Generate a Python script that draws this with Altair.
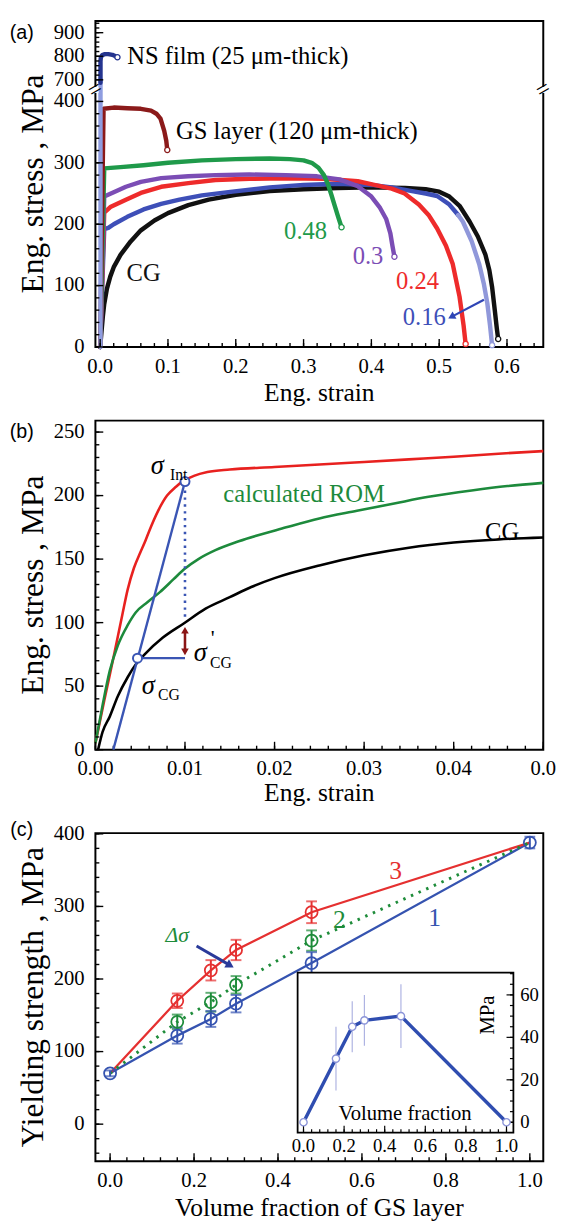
import altair as alt
import pandas as pd

SERIF = "Liberation Serif"
SANS = "Liberation Sans"
W, HA, HB, HC = 456, 332, 335, 334
TICK_MAJOR, TICK_MINOR = 8, 4
LAB = 21

# ======================= panel (a) data =======================
cg_strain = [0.0, 0.002, 0.004, 0.006, 0.01, 0.015, 0.02, 0.03, 0.045, 0.06, 0.08, 0.1, 0.13, 0.16, 0.2, 0.25,
             0.3, 0.35, 0.4, 0.45, 0.48, 0.5, 0.515, 0.53, 0.545, 0.557, 0.568, 0.574, 0.578, 0.582, 0.585, 0.587]
cg_stress = [0, 25, 50, 70, 95, 115, 130, 150, 172, 190, 206, 218, 231, 240, 248, 254,
             257, 259, 260, 259, 257, 253, 245, 230, 204, 180, 151, 125, 98, 60, 30, 13]
f16_strain = [0.0, 0.003, 0.006, 0.012, 0.02, 0.04, 0.064, 0.09, 0.117, 0.15, 0.195, 0.25, 0.3, 0.35, 0.4,
              0.43, 0.46, 0.48, 0.497, 0.515, 0.528]
f16_stress = [0, 96, 192, 194, 200, 212, 224, 233, 240, 247, 253, 260, 264, 266, 264, 260, 254, 250, 246, 232, 215]
f16_tail_strain = [0.528, 0.535, 0.548, 0.559, 0.566, 0.571, 0.575, 0.578]
f16_tail_stress = [215, 204, 172, 135, 102, 71, 35, 3]
f24_strain = [0.0, 0.003, 0.006, 0.015, 0.038, 0.06, 0.09, 0.13, 0.17, 0.22, 0.274, 0.33, 0.38, 0.401, 0.43,
              0.449, 0.47, 0.485, 0.497, 0.51, 0.52, 0.53, 0.536, 0.539]
f24_stress = [0, 110, 219, 228, 240, 251, 261, 267, 272, 274, 275, 274, 270, 265, 258, 250, 232, 214, 193, 165,
              135, 82, 35, 5]
f30_strain = [0.0, 0.003, 0.006, 0.02, 0.038, 0.06, 0.09, 0.13, 0.17, 0.22, 0.274, 0.32, 0.353, 0.38, 0.40,
              0.412, 0.422, 0.428, 0.431, 0.434]
f30_stress = [0, 122, 245, 252, 261, 269, 275, 278, 280, 281, 280, 278, 273, 262, 245, 228, 208, 185, 165, 147]
f48_strain = [0.0, 0.003, 0.006, 0.03, 0.064, 0.1, 0.15, 0.2, 0.25, 0.28, 0.3, 0.312, 0.322, 0.33, 0.336,
              0.341, 0.346, 0.351, 0.356]
f48_stress = [0, 145, 291, 293, 296, 300, 304, 306, 307, 306, 304, 300, 292, 280, 265, 248, 230, 212, 195]
gs_strain = [0.0, 0.003, 0.005, 0.02, 0.04, 0.06, 0.075, 0.083, 0.089, 0.0945, 0.0975, 0.099]
gs_stress = [0, 230, 388, 390, 389, 388, 385, 380, 372, 352, 336, 321]
ns_el_strain = [0.0005, 0.0005]
ns_el_stress = [0, 700]
ns_strain = [0.0005, 0.0005, 0.001, 0.003, 0.007, 0.012, 0.018, 0.022, 0.0255]
ns_stress = [660, 780, 795, 805, 809, 809, 806, 801, 796]

a_colors = ["#111111", "#3e4fb8", "#9098da", "#ee2b2b", "#7b4db5", "#1f9a4a", "#8b1a1a", "#8f9de0", "#24348f"]
a_curves = [("CG", cg_strain, cg_stress), ("0.16", f16_strain, f16_stress),
            ("0.16 tail", f16_tail_strain, f16_tail_stress), ("0.24", f24_strain, f24_stress),
            ("0.3", f30_strain, f30_stress), ("0.48", f48_strain, f48_stress), ("GS", gs_strain, gs_stress),
            ("NS elastic", ns_el_strain, ns_el_stress), ("NS", ns_strain, ns_stress)]
a_end_series = ["CG", "0.16 tail", "0.24", "0.3", "0.48", "GS", "NS"]

a_lab_left_text = ["NS film (25 \u03bcm-thick)", "GS layer (120 \u03bcm-thick)"]
a_lab_left_x = [0.040, 0.112]
a_lab_left_y = [800, 352]
a_lab_text = ["0.48", "0.3", "0.24", "0.16", "CG"]
a_lab_x = [0.303, 0.395, 0.468, 0.478, 0.064]
a_lab_y = [189, 148, 108, 48, 121]
a_lab_color = ["#1f9a4a", "#7b4db5", "#ee2b2b", "#3e4fb8", "#111111"]
a_arrow_x = [0.566, 0.518]
a_arrow_y = [77, 49]
a_break_x = [-0.007, 0.6535]
a_break_y = [560, 560]

xa_dom = [-0.007, 0.6535]
xa_major = [0.0, 0.1, 0.2, 0.3, 0.4, 0.5, 0.6]
xa_labels = ["0.0", "0.1", "0.2", "0.3", "0.4", "0.5", "0.6"]
xa_minor = [round(0.02 * i, 2) for i in range(33)]
ya_major = [0, 100, 200, 300, 400, 700, 800, 900]
ya_labels = ["0", "100", "200", "300", "400", "700", "800", "900"]
ya_minor = list(range(0, 401, 20)) + list(range(700, 941, 20))

# ======================= panel (b) data =======================
rb_strain = [0, 0.001, 0.002, 0.003, 0.0036, 0.0043, 0.005, 0.0055, 0.006, 0.007, 0.008, 0.009, 0.0097, 0.011,
             0.0125, 0.015, 0.02, 0.025, 0.03, 0.035, 0.04, 0.045, 0.05]
rb_stress = [5, 39, 72, 106, 126, 143, 155, 163, 172, 188, 200, 207, 211, 215.5, 218.5, 220.5, 222.5, 224.5,
             226.5, 228.5, 230.5, 233, 235]
gb_strain = [0, 0.0008, 0.0016, 0.0025, 0.0036, 0.0045, 0.0058, 0.0072, 0.0087, 0.0099, 0.0115, 0.0134, 0.016,
             0.0213, 0.025, 0.0292, 0.0335, 0.0372, 0.042, 0.046, 0.05]
gb_stress = [5, 35, 62, 82, 98, 108, 116, 124, 134, 142, 150, 157, 164, 175, 182, 188, 194, 199, 204, 207.5, 210]
kb_strain = [0.0003, 0.0008, 0.0016, 0.0025, 0.0036, 0.0045, 0.0055, 0.0075, 0.0099, 0.0123, 0.015, 0.0174,
             0.02, 0.025, 0.03, 0.035, 0.04, 0.045, 0.05]
kb_stress = [0, 14, 26, 42, 57, 67, 75, 88, 99.5, 111, 120, 128, 135, 145, 153, 159, 163, 165.5, 167]
b_colors = ["#e8211f", "#1d8a3c", "#000000"]

b_offset_strain = [0.002, 0.01]
b_offset_stress = [0, 211]
b_h_strain = [0.0047, 0.01]
b_h_stress = [72, 72]
b_dot_strain = [0.01, 0.01]
b_dot_stress = [204, 103]
b_circ_strain = [0.01, 0.0047]
b_circ_stress = [211, 72]
b_arrow_x = [0.01, 0.01]
b_arrow_y = [77, 94]

b_sig_x = [0.0069, 0.0117, 0.0059]
b_sig_y = [223, 76, 50]
b_sub_text = ["Int", "CG", "CG"]
b_sub_x = [0.0093, 0.014, 0.0082]
b_sub_y = [216, 68, 43]
b_prime_x = [0.0131]
b_prime_y = [88]
b_lab_text = ["calculated ROM", "CG"]
b_lab_x = [0.0233, 0.0454]
b_lab_y = [201, 171.5]
b_lab_color = ["#1d8a3c", "#000000"]

xb_dom = [0.0, 0.05]
yb_dom = [0, 259]
xb_major = [0.0, 0.01, 0.02, 0.03, 0.04, 0.05]
xb_labels = ["0.00", "0.01", "0.02", "0.03", "0.04", "0.0"]
xb_minor = [round(0.002 * i, 3) for i in range(26)]
yb_major = [0, 50, 100, 150, 200, 250]
yb_labels = ["0", "50", "100", "150", "200", "250"]
yb_minor = list(range(0, 251, 10))

# ======================= panel (c) data =======================
c_frac = [0.0, 0.16, 0.24, 0.30, 0.48, 1.0]
c_blue = [70, 122, 145, 166, 222, 388]
c_blue_err = [4, 11, 11, 12, 15, 8]
c_green = [70, 141, 168, 192, 253, 388]
c_green_err = [0, 10, 13, 12, 14, 0]
c_red = [70, 170, 212, 240, 292, 388]
c_red_err = [0, 10, 14, 14, 15, 0]
c_colors = ["#3553b0", "#1e8c3a", "#e53030"]

c_lab_text = ["3", "2", "1"]
c_lab_x = [0.68, 0.546, 0.773]
c_lab_y = [349, 281, 284]
c_lab_color = ["#e53030", "#1e8c3a", "#3553b0"]
c_ds_x = [0.16]
c_ds_y = [261]
c_arrow_x = [0.206, 0.286]
c_arrow_y = [245.6, 218.8]

i_frac = [0.0, 0.16, 0.24, 0.30, 0.48, 1.0]
i_val = [0, 30, 45, 48, 50, 0]
i_lo = [0, 15, 33, 36, 35, 0]
i_hi = [0, 45, 57, 60, 65, 0]

xc_dom = [-0.035, 1.032]
yc_dom = [-51, 401]
xc_major = [0.0, 0.2, 0.4, 0.6, 0.8, 1.0]
xc_labels = ["0.0", "0.2", "0.4", "0.6", "0.8", "1.0"]
xc_minor = [round(0.04 * i, 2) for i in range(26)]
yc_major = [0, 100, 200, 300, 400]
yc_labels = ["0", "100", "200", "300", "400"]
yc_minor = list(range(-40, 401, 20))
xi_dom = [-0.029, 1.034]
yi_dom = [-4.9, 70.5]
xi_major = [0.0, 0.2, 0.4, 0.6, 0.8, 1.0]
xi_labels = ["0.0", "0.2", "0.4", "0.6", "0.8", "1.0"]
xi_minor = [round(0.04 * i, 2) for i in range(26)]
yi_major = [0, 20, 40, 60]
yi_labels = ["0", "20", "40", "60"]
yi_minor = list(range(0, 71, 5))

panel_labels = ["(a)", "(b)", "(c)"]
x_titles = ["Eng. strain", "Eng. strain", "Volume fraction of GS layer"]
y_titles = ["Eng. stress , MPa", "Eng. stress , MPa", "Yielding strength , MPa"]


# ======================= helpers =======================
def ticks_x(values, xs, ys, y_edge, dy, width=1.4):
    """inward ticks on a horizontal edge, each drawn as a 2-point line from y_edge to y_edge+dy."""
    rows = []
    for j, v in enumerate(values):
        rows.append({"k": j, "i": 0, "px": v, "py": y_edge})
        rows.append({"k": j, "i": 1, "px": v, "py": y_edge + dy})
    return alt.Chart(pd.DataFrame(rows)).mark_line(color="black", strokeWidth=width).encode(
        x=alt.X("px:Q", scale=xs, axis=None), y=alt.Y("py:Q", scale=ys, axis=None),
        detail="k:N", order="i:Q")


def ticks_y(values, xs, ys, x_edge, dx, width=1.4):
    """inward ticks on a vertical edge, each drawn as a 2-point line from x_edge to x_edge+dx."""
    rows = []
    for j, v in enumerate(values):
        rows.append({"k": j, "i": 0, "px": x_edge, "py": v})
        rows.append({"k": j, "i": 1, "px": x_edge + dx, "py": v})
    return alt.Chart(pd.DataFrame(rows)).mark_line(color="black", strokeWidth=width).encode(
        x=alt.X("px:Q", scale=xs, axis=None), y=alt.Y("py:Q", scale=ys, axis=None),
        detail="k:N", order="i:Q")


def labels_x(values, texts, scale, y_px, size=LAB):
    return alt.Chart(pd.DataFrame({"v": values, "t": texts})).mark_text(
        font=SERIF, fontSize=size, align="center", baseline="top", color="black").encode(
        x=alt.X("v:Q", scale=scale, axis=None), y=alt.value(y_px), text="t:N")


def labels_y(values, texts, scale, x_px, align="right", size=LAB):
    return alt.Chart(pd.DataFrame({"v": values, "t": texts})).mark_text(
        font=SERIF, fontSize=size, align=align, baseline="middle", color="black").encode(
        y=alt.Y("v:Q", scale=scale, axis=None), x=alt.value(x_px), text="t:N")


def free_text(txt, x_px, y_px, size, angle=0, font=SERIF):
    return alt.Chart(pd.DataFrame({"t": [txt]})).mark_text(
        font=font, fontSize=size, angle=angle, align="center", baseline="middle", color="black").encode(
        text="t:N", x=alt.value(x_px), y=alt.value(y_px))


def frame_guides(xs, ys, xdom, y_bottom, px_x, px_y, xmaj, xlab, xmin, ymaj, ylab, ymin, height, k, xtitle_dy):
    return [ticks_x(xmin, xs, ys, y_bottom, TICK_MINOR / px_y), ticks_x(xmaj, xs, ys, y_bottom, TICK_MAJOR / px_y),
            ticks_y(ymin, xs, ys, xdom[0], TICK_MINOR / px_x), ticks_y(ymaj, xs, ys, xdom[0], TICK_MAJOR / px_x),
            labels_x(xmaj, xlab, xs, height + 9), labels_y(ymaj, ylab, ys, -11),
            free_text(x_titles[k], W / 2, height + xtitle_dy, 26),
            free_text(y_titles[k], -63, height / 2, 32, angle=270)]


def enc_xy(xs, ys, xf="x", yf="y"):
    return dict(x=alt.X(f"{xf}:Q", scale=xs, axis=None), y=alt.Y(f"{yf}:Q", scale=ys, axis=None))


def long_df(curves, colors):
    rows = []
    for (name, xs, ys), col in zip(curves, colors):
        for i, (x, y) in enumerate(zip(xs, ys)):
            rows.append({"series": name, "x": x, "y": y, "i": i, "c": col})
    return pd.DataFrame(rows)


COL = alt.Color("c:N", scale=None, legend=None)

# ======================= panel (a) =======================
xa_scale = alt.Scale(domain=xa_dom, nice=False, zero=False)
ya_scale = alt.Scale(domain=[0, 400, 700, 950], range=[HA, 82, 60, 0], nice=False, zero=False)
pxa_x = W / (xa_dom[1] - xa_dom[0])
pxa_y = (HA - 82) / 400.0

a_df = long_df(a_curves, a_colors)
a_end = a_df.sort_values("i").groupby("series").tail(1)
a_end = a_end[a_end["series"].isin(a_end_series)]

a_lines = alt.Chart(a_df).mark_line(strokeWidth=4.5, strokeCap="round", strokeJoin="round").encode(
    color=COL, detail="series:N", order="i:Q", **enc_xy(xa_scale, ya_scale))
a_ends = alt.Chart(a_end).mark_point(shape="circle", filled=True, fill="white", fillOpacity=1,
                                      size=28, strokeWidth=1.3).encode(
    stroke=alt.Stroke("c:N", scale=None, legend=None), **enc_xy(xa_scale, ya_scale))
a_lab_l = alt.Chart(pd.DataFrame({"x": a_lab_left_x, "y": a_lab_left_y, "t": a_lab_left_text})).mark_text(
    font=SERIF, fontSize=25, align="left", baseline="middle", color="black").encode(
    text="t:N", **enc_xy(xa_scale, ya_scale))
a_lab_c = alt.Chart(pd.DataFrame({"x": a_lab_x, "y": a_lab_y, "t": a_lab_text, "c": a_lab_color})).mark_text(
    font=SERIF, fontSize=25, align="center", baseline="middle").encode(
    text="t:N", color=COL, **enc_xy(xa_scale, ya_scale))
a_arr_df = pd.DataFrame({"x": [a_arrow_x[0]], "y": [a_arrow_y[0]], "x2": [a_arrow_x[1]], "y2": [a_arrow_y[1]]})
a_arr = alt.Chart(a_arr_df).mark_rule(color="#2f45b5", strokeWidth=2.2).encode(
    x=alt.X("x:Q", scale=xa_scale, axis=None), y=alt.Y("y:Q", scale=ya_scale, axis=None), x2="x2:Q", y2="y2:Q")
a_arr_head = alt.Chart(pd.DataFrame({"x": [a_arrow_x[1]], "y": [a_arrow_y[1]]})).mark_point(
    shape="triangle-right", filled=True, color="#2f45b5", size=70, angle=152, opacity=1).encode(
    **enc_xy(xa_scale, ya_scale))
brk_df = pd.DataFrame({"x": a_break_x, "y": a_break_y})
a_brk_gap = alt.Chart(brk_df).mark_point(shape="square", filled=True, color="white", size=40, opacity=1).encode(
    **enc_xy(xa_scale, ya_scale))
a_brk = alt.Chart(brk_df.assign(t="=")).mark_text(font=SERIF, fontSize=24, angle=330, align="center",
                                                   baseline="middle", color="black").encode(
    text="t:N", **enc_xy(xa_scale, ya_scale))

panel_a = alt.layer(
    a_lines,
    *frame_guides(xa_scale, ya_scale, xa_dom, 0, pxa_x, pxa_y, xa_major, xa_labels, xa_minor,
                  ya_major, ya_labels, ya_minor, HA, 0, 47),
    a_ends, a_arr, a_arr_head, a_lab_l, a_lab_c, a_brk_gap, a_brk,
    free_text(panel_labels[0], -75, 12, 20, font=SANS),
).properties(width=W, height=HA)

# ======================= panel (b) =======================
xb_scale = alt.Scale(domain=xb_dom, nice=False, zero=False)
yb_scale = alt.Scale(domain=yb_dom, nice=False, zero=False)
pxb_x = W / (xb_dom[1] - xb_dom[0])
pxb_y = HB / (yb_dom[1] - yb_dom[0])
b_df = long_df([("red", rb_strain, rb_stress), ("green", gb_strain, gb_stress), ("black", kb_strain, kb_stress)],
               b_colors)

b_lines = alt.Chart(b_df).mark_line(strokeWidth=2.6, interpolate="monotone").encode(
    color=COL, detail="series:N", order="i:Q", **enc_xy(xb_scale, yb_scale))
b_guide_df = long_df([("off", b_offset_strain, b_offset_stress), ("h", b_h_strain, b_h_stress)],
                     ["#3a55b4", "#3a55b4"])
b_guides = alt.Chart(b_guide_df).mark_line(strokeWidth=2.4, color="#3a55b4").encode(
    detail="series:N", order="i:Q", **enc_xy(xb_scale, yb_scale))
b_dots = alt.Chart(pd.DataFrame({"x": b_dot_strain, "y": b_dot_stress})).mark_line(
    strokeWidth=2.6, color="#3a55b4", strokeDash=[2.5, 4.5]).encode(**enc_xy(xb_scale, yb_scale))
b_circ = alt.Chart(pd.DataFrame({"x": b_circ_strain, "y": b_circ_stress})).mark_point(
    shape="circle", filled=True, fill="white", stroke="#3a55b4", strokeWidth=2, size=85, opacity=1).encode(
    **enc_xy(xb_scale, yb_scale))
b_arr = alt.Chart(pd.DataFrame({"x": [b_arrow_x[0]], "y": [b_arrow_y[0]], "y2": [b_arrow_y[1]]})).mark_rule(
    color="#8b1515", strokeWidth=2.6).encode(
    x=alt.X("x:Q", scale=xb_scale, axis=None), y=alt.Y("y:Q", scale=yb_scale, axis=None), y2="y2:Q")
b_heads = alt.Chart(pd.DataFrame({"x": b_arrow_x, "y": b_arrow_y, "s": ["triangle-down", "triangle-up"]})).mark_point(
    filled=True, color="#8b1515", size=60, opacity=1).encode(
    shape=alt.Shape("s:N", scale=None), **enc_xy(xb_scale, yb_scale))
b_sig = alt.Chart(pd.DataFrame({"x": b_sig_x, "y": b_sig_y, "t": ["\u03c3"] * 3})).mark_text(
    font=SERIF, fontSize=27, fontStyle="italic", align="center", baseline="middle", color="black").encode(
    text="t:N", **enc_xy(xb_scale, yb_scale))
b_sub = alt.Chart(pd.DataFrame({"x": b_sub_x, "y": b_sub_y, "t": b_sub_text})).mark_text(
    font=SERIF, fontSize=16, align="center", baseline="middle", color="black").encode(
    text="t:N", **enc_xy(xb_scale, yb_scale))
b_prime = alt.Chart(pd.DataFrame({"x": b_prime_x, "y": b_prime_y, "t": ["'"]})).mark_text(
    font=SERIF, fontSize=22, align="center", baseline="middle", color="black").encode(
    text="t:N", **enc_xy(xb_scale, yb_scale))
b_lab = alt.Chart(pd.DataFrame({"x": b_lab_x, "y": b_lab_y, "t": b_lab_text, "c": b_lab_color})).mark_text(
    font=SERIF, fontSize=25, align="center", baseline="middle").encode(
    text="t:N", color=COL, **enc_xy(xb_scale, yb_scale))

panel_b = alt.layer(
    b_lines,
    *frame_guides(xb_scale, yb_scale, xb_dom, yb_dom[0], pxb_x, pxb_y, xb_major, xb_labels, xb_minor,
                  yb_major, yb_labels, yb_minor, HB, 1, 44),
    b_guides, b_dots, b_arr, b_heads, b_circ, b_sig, b_sub, b_prime, b_lab,
    free_text(panel_labels[1], -75, 12, 20, font=SANS),
).properties(width=W, height=HB)

# ======================= panel (c) =======================
xc_scale = alt.Scale(domain=xc_dom, nice=False, zero=False)
yc_scale = alt.Scale(domain=yc_dom, nice=False, zero=False)
pxc_x = W / (xc_dom[1] - xc_dom[0])
pxc_y = HC / (yc_dom[1] - yc_dom[0])

c_rows = []
for name, vals, errs, col in [("1", c_blue, c_blue_err, c_colors[0]), ("2", c_green, c_green_err, c_colors[1]),
                              ("3", c_red, c_red_err, c_colors[2])]:
    for i, (f, v, e) in enumerate(zip(c_frac, vals, errs)):
        c_rows.append({"series": name, "x": f, "y": v, "lo": v - e, "hi": v + e, "e": e, "i": i, "c": col})
c_df = pd.DataFrame(c_rows)
c_pts = c_df[(c_df["series"] == "1") | (c_df["e"] > 0)]

c_solid = alt.Chart(c_df[c_df["series"] != "2"]).mark_line(strokeWidth=2.3).encode(
    color=COL, detail="series:N", order="i:Q", **enc_xy(xc_scale, yc_scale))
c_dotted = alt.Chart(c_df[c_df["series"] == "2"]).mark_line(strokeWidth=3, strokeDash=[2.5, 6]).encode(
    color=COL, order="i:Q", **enc_xy(xc_scale, yc_scale))
c_err = alt.Chart(c_pts).mark_rule(strokeWidth=2).encode(
    x=alt.X("x:Q", scale=xc_scale, axis=None), y=alt.Y("lo:Q", scale=yc_scale, axis=None), y2="hi:Q", color=COL)
c_cap_lo = alt.Chart(c_pts).mark_tick(orient="horizontal", size=11, thickness=2).encode(
    color=COL, **enc_xy(xc_scale, yc_scale, "x", "lo"))
c_cap_hi = alt.Chart(c_pts).mark_tick(orient="horizontal", size=11, thickness=2).encode(
    color=COL, **enc_xy(xc_scale, yc_scale, "x", "hi"))
c_circ = alt.Chart(c_pts).mark_point(shape="circle", filled=False, size=150, strokeWidth=1.8, opacity=1).encode(
    color=COL, **enc_xy(xc_scale, yc_scale))
c_lab = alt.Chart(pd.DataFrame({"x": c_lab_x, "y": c_lab_y, "t": c_lab_text, "c": c_lab_color})).mark_text(
    font=SERIF, fontSize=26, align="center", baseline="middle").encode(
    text="t:N", color=COL, **enc_xy(xc_scale, yc_scale))
c_ds = alt.Chart(pd.DataFrame({"x": c_ds_x, "y": c_ds_y, "t": ["\u0394\u03c3"]})).mark_text(
    font=SERIF, fontSize=22, fontStyle="italic", align="center", baseline="middle", color="#1e8c3a").encode(
    text="t:N", **enc_xy(xc_scale, yc_scale))
c_arr = alt.Chart(pd.DataFrame({"x": [c_arrow_x[0]], "y": [c_arrow_y[0]], "x2": [c_arrow_x[1]],
                                "y2": [c_arrow_y[1]]})).mark_rule(color="#2a3a9a", strokeWidth=3).encode(
    x=alt.X("x:Q", scale=xc_scale, axis=None), y=alt.Y("y:Q", scale=yc_scale, axis=None), x2="x2:Q", y2="y2:Q")
c_arr_head = alt.Chart(pd.DataFrame({"x": [c_arrow_x[1]], "y": [c_arrow_y[1]]})).mark_point(
    shape="triangle-right", filled=True, color="#2a3a9a", size=90, angle=30, opacity=1).encode(
    **enc_xy(xc_scale, yc_scale))

main_c = alt.layer(
    c_solid,
    *frame_guides(xc_scale, yc_scale, xc_dom, yc_dom[0], pxc_x, pxc_y, xc_major, xc_labels, xc_minor,
                  yc_major, yc_labels, yc_minor, HC, 2, 48),
    c_dotted, c_err, c_cap_lo, c_cap_hi, c_circ, c_lab, c_ds, c_arr, c_arr_head,
    free_text(panel_labels[2], -75, -3, 20, font=SANS),
)

# ---- inset ----
ix0, ix1 = W * 0.4515, W * 0.9333
iy0, iy1 = HC * 0.9131, HC * 0.4252
xi_scale = alt.Scale(domain=xi_dom, range=[ix0, ix1], nice=False, zero=False)
yi_scale = alt.Scale(domain=yi_dom, range=[iy0, iy1], nice=False, zero=False)
pxi_x = (ix1 - ix0) / (xi_dom[1] - xi_dom[0])
pxi_y = (iy0 - iy1) / (yi_dom[1] - yi_dom[0])

i_df = pd.DataFrame({"x": i_frac, "y": i_val, "lo": i_lo, "hi": i_hi})
i_frame = alt.Chart(pd.DataFrame({"x": [xi_dom[0]], "x2": [xi_dom[1]], "y": [yi_dom[0]], "y2": [yi_dom[1]]})).mark_rect(
    fill="white", stroke="black", strokeWidth=1.8).encode(
    x=alt.X("x:Q", scale=xi_scale, axis=None), x2="x2:Q", y=alt.Y("y:Q", scale=yi_scale, axis=None), y2="y2:Q")
i_guides = [ticks_x(xi_minor, xi_scale, yi_scale, yi_dom[0], 3.5 / pxi_y, 1.2),
            ticks_x(xi_major, xi_scale, yi_scale, yi_dom[0], 7 / pxi_y, 1.2),
            ticks_y(yi_minor, xi_scale, yi_scale, xi_dom[1], -3.5 / pxi_x, 1.2),
            ticks_y(yi_major, xi_scale, yi_scale, xi_dom[1], -7 / pxi_x, 1.2),
            labels_x(xi_major, xi_labels, xi_scale, iy0 + 5, size=19),
            labels_y(yi_major, yi_labels, yi_scale, ix1 + 7, align="left", size=19)]
i_err = alt.Chart(i_df[i_df["hi"] > 0]).mark_rule(color="#aeb3e2", strokeWidth=1.2).encode(
    x=alt.X("x:Q", scale=xi_scale, axis=None), y=alt.Y("lo:Q", scale=yi_scale, axis=None), y2="hi:Q")
i_line = alt.Chart(i_df).mark_line(color="#2f4db0", strokeWidth=3.5).encode(**enc_xy(xi_scale, yi_scale))
i_pts = alt.Chart(i_df).mark_point(shape="circle", filled=True, fill="white", stroke="#8b94d8", strokeWidth=1.4,
                                   size=55, opacity=1).encode(**enc_xy(xi_scale, yi_scale))
i_txt = alt.Chart(pd.DataFrame({"x": [0.5], "y": [3.8], "t": ["Volume fraction"]})).mark_text(
    font=SERIF, fontSize=21, align="center", baseline="middle", color="black").encode(
    text="t:N", **enc_xy(xi_scale, yi_scale))
i_mpa = alt.Chart(pd.DataFrame({"x": [0.91], "y": [50.5], "t": ["MPa"]})).mark_text(
    font=SERIF, fontSize=21, angle=270, align="center", baseline="middle", color="black").encode(
    text="t:N", **enc_xy(xi_scale, yi_scale))

inset = alt.layer(i_frame, *i_guides, i_err, i_line, i_pts, i_txt, i_mpa)

panel_c = alt.layer(main_c, inset).resolve_scale(x="independent", y="independent").properties(width=W, height=HC)

chart = alt.vconcat(panel_a, panel_b, panel_c, spacing=13).properties(
    padding={"left": 0, "top": 0, "right": 0, "bottom": 0}
).configure_view(stroke="black", strokeWidth=2)

chart.save("out.html", embed_options={"renderer": "svg", "actions": False})
